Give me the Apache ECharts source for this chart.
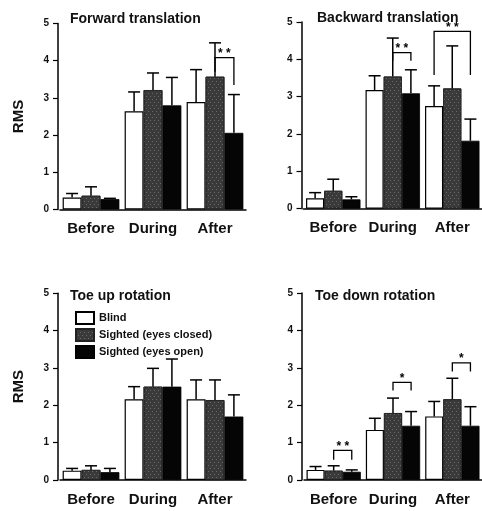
<!DOCTYPE html>
<html><head><meta charset="utf-8">
<script src="https://cdn.jsdelivr.net/npm/echarts@6/dist/echarts.min.js"></script>
<style>html,body{margin:0;padding:0;background:#fff;}#c{width:482px;height:511px;}</style>
</head><body><div id="c"></div>
<script>
const categories = ['Before', 'During', 'After'];
const groups = ['Blind', 'Sighted (eyes closed)', 'Sighted (eyes open)'];
const panelTitles = ['Forward translation', 'Backward translation', 'Toe up rotation', 'Toe down rotation'];
const yTicks = [0, 1, 2, 3, 4, 5];

// Forward translation: means and error-bar tops
const fwdBlind = [0.32, 2.64, 2.89];   const fwdBlindTop = [0.43, 3.16, 3.76];
const fwdClosed = [0.37, 3.21, 3.57];  const fwdClosedTop = [0.61, 3.67, 4.48];
const fwdOpen = [0.28, 2.80, 2.06];    const fwdOpenTop = [0.30, 3.55, 3.09];
// Backward translation
const bwdBlind = [0.28, 3.18, 2.75];   const bwdBlindTop = [0.43, 3.56, 3.29];
const bwdClosed = [0.48, 3.54, 3.22];  const bwdClosedTop = [0.79, 4.57, 4.36];
const bwdOpen = [0.25, 3.09, 1.82];    const bwdOpenTop = [0.32, 3.72, 2.40];
// Toe up rotation
const upBlind = [0.25, 2.16, 2.16];    const upBlindTop = [0.31, 2.50, 2.68];
const upClosed = [0.27, 2.50, 2.14];   const upClosedTop = [0.38, 2.99, 2.68];
const upOpen = [0.21, 2.50, 1.70];     const upOpenTop = [0.31, 3.24, 2.28];
// Toe down rotation
const downBlind = [0.27, 1.34, 1.70];  const downBlindTop = [0.36, 1.65, 2.10];
const downClosed = [0.25, 1.79, 2.16]; const downClosedTop = [0.38, 2.19, 2.72];
const downOpen = [0.22, 1.45, 1.45];   const downOpenTop = [0.27, 1.83, 1.96];

// significance brackets: [category, barA, barB, bracketTop, legA bottom, legB bottom, label]
const fwdSig = [[2, 1, 2, 4.08, 3.70, 3.35, '* *']];
const bwdSig = [[1, 1, 2, 4.18, 3.96, 3.96, '* *'], [2, 0, 2, 4.75, 3.58, 3.58, '* *']];
const upSig = [];
const downSig = [[0, 1, 2, 0.79, 0.54, 0.54, '* *'], [1, 1, 2, 2.61, 2.39, 2.39, '*'], [2, 1, 2, 3.13, 2.90, 2.90, '*']];

const panels = [
  {means: [fwdBlind, fwdClosed, fwdOpen], tops: [fwdBlindTop, fwdClosedTop, fwdOpenTop], sig: fwdSig},
  {means: [bwdBlind, bwdClosed, bwdOpen], tops: [bwdBlindTop, bwdClosedTop, bwdOpenTop], sig: bwdSig},
  {means: [upBlind, upClosed, upOpen], tops: [upBlindTop, upClosedTop, upOpenTop], sig: upSig},
  {means: [downBlind, downClosed, downOpen], tops: [downBlindTop, downClosedTop, downOpenTop], sig: downSig}
];

const FONT = 'Liberation Sans, Arial, sans-serif';
const CAT_GAP = 0.085;
const grids = [
  {left: 60, top: 23.5, width: 186, height: 186},
  {left: 303.5, top: 22, width: 188, height: 186.7},
  {left: 60, top: 293.3, width: 186, height: 186.7},
  {left: 304, top: 293, width: 188, height: 187}
];
const titlePos = [[65, 7], [312, 6], [65, 284], [310, 284]];

const barStyles = [
  {color: '#ffffff', borderColor: '#000', borderWidth: 1.2},
  {color: '#3a3a3a', borderColor: '#222', borderWidth: 0.8,
   decal: {symbol: 'rect', symbolSize: 1, color: 'rgba(230,230,230,0.28)', dashArrayX: [[1, 3], [0, 2, 1, 1]], dashArrayY: [1, 2], rotation: 0}},
  {color: '#050505', borderColor: '#000', borderWidth: 0.8}
];

function barX(api, cat, idx) {
  const band = api.size([1, 0])[0];
  const w = band * (1 - CAT_GAP) / 3;
  return api.coord([cat, 0])[0] - 1.5 * w + (idx + 0.5) * w;
}

const option = {
  animation: false,
  backgroundColor: '#fff',
  textStyle: {fontFamily: FONT},
  title: panelTitles.map((t, i) => ({text: t, left: titlePos[i][0], top: titlePos[i][1],
    textStyle: {fontSize: 14, fontWeight: 'bold', color: '#111', fontFamily: FONT}})),
  legend: {
    data: groups, orient: 'vertical', left: 70, top: 306, itemWidth: 18, itemHeight: 12, itemGap: 3,
    icon: 'rect', textStyle: {fontSize: 11, fontWeight: 'bold', color: '#111', fontFamily: FONT}
  },
  grid: grids,
  xAxis: grids.map((g, i) => ({
    type: 'category', gridIndex: i, data: categories,
    axisLine: {lineStyle: {color: '#000', width: 1.5}},
    axisTick: {alignWithLabel: true, length: 5, lineStyle: {color: '#000', width: 1.2}},
    axisLabel: {interval: 0, fontSize: 15, fontWeight: 'bold', color: '#111', margin: 12, fontFamily: FONT}
  })),
  yAxis: grids.map((g, i) => ({
    type: 'value', gridIndex: i, min: 0, max: 5, interval: 1, offset: 2,
    name: (i % 2 === 0) ? 'RMS' : '', nameLocation: 'middle', nameGap: 32,
    nameTextStyle: {fontSize: 15, fontWeight: 'bold', color: '#111', fontFamily: FONT},
    axisLine: {show: true, lineStyle: {color: '#000', width: 1.5}},
    axisTick: {show: true, length: 5, lineStyle: {color: '#000', width: 1.2}},
    splitLine: {show: false},
    axisLabel: {fontSize: 10, fontWeight: 'bold', color: '#111', margin: 9, fontFamily: FONT,
      formatter: v => yTicks.includes(v) ? String(v) : ''}
  })),
  series: []
};

panels.forEach((p, pi) => {
  groups.forEach((g, gi) => {
    option.series.push({
      type: 'bar', name: g, xAxisIndex: pi, yAxisIndex: pi, data: p.means[gi],
      barGap: '0%', barCategoryGap: (CAT_GAP * 100) + '%', itemStyle: barStyles[gi], z: 2
    });
  });
  const errData = [];
  p.means.forEach((arr, gi) => arr.forEach((m, ci) => errData.push([ci, gi, m, p.tops[gi][ci]])));
  option.series.push({
    type: 'custom', xAxisIndex: pi, yAxisIndex: pi, data: errData, z: 3, silent: true,
    encode: {x: 0, y: [2, 3]},
    renderItem: (params, api) => {
      const x = barX(api, api.value(0), api.value(1));
      const y1 = api.coord([api.value(0), api.value(2)])[1];
      const y2 = api.coord([api.value(0), api.value(3)])[1];
      const st = {stroke: '#000', lineWidth: 1.5};
      return {type: 'group', children: [
        {type: 'line', shape: {x1: x, y1: y1, x2: x, y2: y2}, style: st},
        {type: 'line', shape: {x1: x - 6, y1: y2, x2: x + 6, y2: y2}, style: st}
      ]};
    }
  });
  if (p.sig.length) {
    option.series.push({
      type: 'custom', xAxisIndex: pi, yAxisIndex: pi, data: p.sig, z: 4, silent: true,
      encode: {x: 0, y: 3},
      renderItem: (params, api) => {
        const d = p.sig[params.dataIndex];
        const xa = barX(api, d[0], d[1]);
        const xb = barX(api, d[0], d[2]);
        const yt = api.coord([d[0], d[3]])[1];
        const ya = api.coord([d[0], d[4]])[1];
        const yb = api.coord([d[0], d[5]])[1];
        return {type: 'group', children: [
          {type: 'polyline', shape: {points: [[xa, ya], [xa, yt], [xb, yt], [xb, yb]]},
           style: {stroke: '#000', lineWidth: 1.3, fill: null}},
          {type: 'text', x: (xa + xb) / 2, y: yt + 2,
           style: {text: d[6], fill: '#000', font: 'bold 12px ' + FONT, textAlign: 'center', textVerticalAlign: 'bottom'}}
        ]};
      }
    });
  }
});

const chart = echarts.init(document.getElementById('c'), null, {renderer: 'canvas'});
chart.setOption(option);
</script></body></html>
